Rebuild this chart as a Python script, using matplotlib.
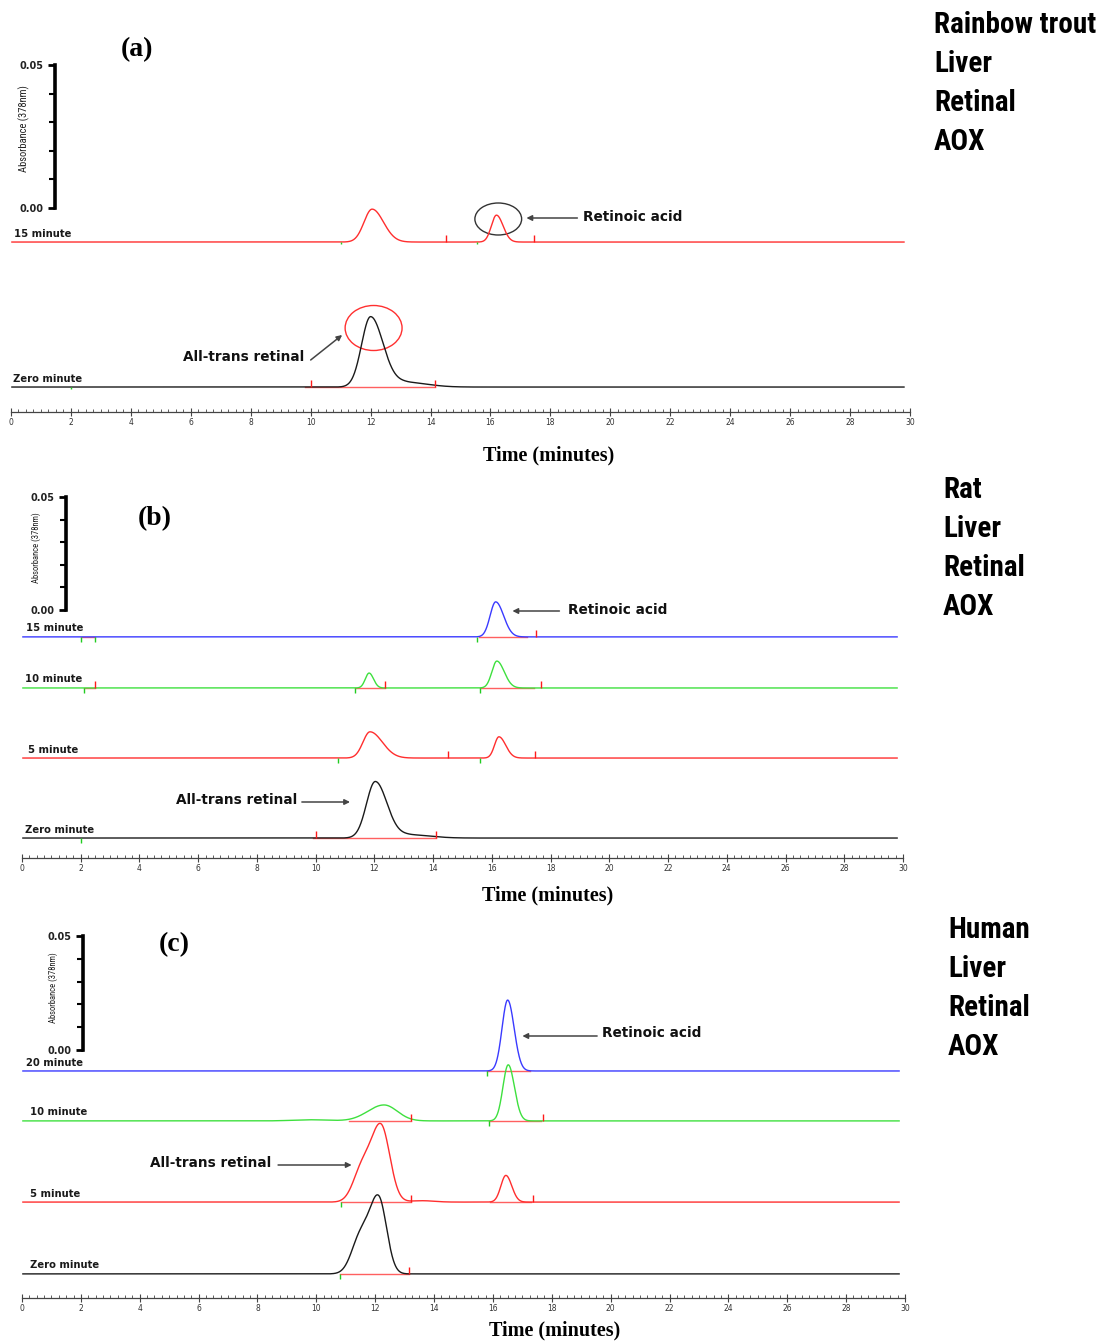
import numpy as np
import matplotlib
matplotlib.use("Agg")
import matplotlib.pyplot as plt
from matplotlib import font_manager
from matplotlib.patches import Ellipse
from matplotlib.ticker import MultipleLocator

W, H = 1100, 1341
OUT_PATH = "out.png"

# ======================================================
# DATA
# ======================================================
# ---- (a) Rainbow trout ----
A_TITLE = ["Rainbow trout", "Liver", "Retinal", "AOX"]
A_LABELS = ["15 minute", "Zero minute"]
A_COLORS = ["#ff2e2e", "#1a1a1a"]
A_OFFSETS = [-0.0119, -0.0626]
A_PEAK_RT = [[12.05, 16.20], [12.00, 13.20]]
A_PEAK_H = [[0.0115, 0.0094], [0.0246, 0.0016]]
A_PEAK_SL = [[0.27, 0.17], [0.30, 0.40]]
A_PEAK_SR = [[0.38, 0.22], [0.42, 0.70]]
A_RED_TICKS = [[14.50, 17.45], [10.00, 14.15]]
A_GREEN_TICKS = [[11.00, 15.55], [2.00]]
A_SEGMENTS = [[], [(9.80, 14.15)]]

# ---- (b) Rat ----
B_TITLE = ["Rat", "Liver", "Retinal", "AOX"]
B_LABELS = ["15 minute", "10 minute", "5 minute", "Zero minute"]
B_COLORS = ["#3a3aff", "#3ee03e", "#ff2e2e", "#1a1a1a"]
B_OFFSETS = [-0.0119, -0.0345, -0.0655, -0.1009]
B_PEAK_RT = [[16.13], [11.82, 16.17], [11.85, 16.24], [12.03, 13.20]]
B_PEAK_H = [[0.0155], [0.0066, 0.0119], [0.0116, 0.0094], [0.0250, 0.0014]]
B_PEAK_SL = [[0.19], [0.13, 0.17], [0.24, 0.15], [0.30, 0.40]]
B_PEAK_SR = [[0.27], [0.15, 0.25], [0.42, 0.23], [0.40, 0.70]]
B_RED_TICKS = [[17.50], [2.50, 12.37, 17.68], [14.50, 17.47], [10.00, 14.10]]
B_GREEN_TICKS = [[2.00, 2.50, 15.50], [2.10, 11.35, 15.60], [10.76, 15.60], [2.00]]
B_SEGMENTS = [[(2.00, 2.50), (15.55, 17.20)],
              [(2.10, 2.50), (11.35, 12.37), (15.60, 17.45)],
              [],
              [(9.90, 14.10)]]

# ---- (c) Human ----
C_TITLE = ["Human", "Liver", "Retinal", "AOX"]
C_LABELS = ["20 minute", "10 minute", "5 minute", "Zero minute"]
C_COLORS = ["#3a3aff", "#3ee03e", "#ff2e2e", "#1a1a1a"]
C_OFFSETS = [-0.0092, -0.0311, -0.0667, -0.0982]
C_PEAK_RT = [[16.50], [9.80, 12.30, 16.52], [11.55, 12.20, 13.60, 16.44], [11.50, 12.12]]
C_PEAK_H = [[0.0311], [0.0005, 0.0070, 0.0246], [0.0140, 0.0330, 0.0006, 0.0117], [0.0160, 0.0325]]
C_PEAK_SL = [[0.19], [0.60, 0.55, 0.18], [0.30, 0.33, 0.40, 0.17], [0.30, 0.30]]
C_PEAK_SR = [[0.22], [0.60, 0.45, 0.21], [0.30, 0.30, 0.40, 0.20], [0.30, 0.27]]
C_RED_TICKS = [[], [13.20, 17.70], [13.20, 17.35], [13.15]]
C_GREEN_TICKS = [[15.80], [15.85], [10.85], [10.80]]
C_SEGMENTS = [[(15.80, 17.25)],
              [(11.10, 13.20), (15.85, 17.65)],
              [(10.85, 13.20), (15.90, 17.30)],
              [(10.80, 13.15)]]

RUN_END = 29.8
X_TICKS = np.arange(0, 31, 2)


# ======================================================
# FONT HELPERS
# ======================================================
def pick_font(candidates):
    names = {f.name for f in font_manager.fontManager.ttflist}
    for c in candidates:
        if c in names:
            return c
    return "DejaVu Sans"


NARROW = pick_font(["Liberation Sans Narrow", "Arial Narrow", "Roboto Condensed",
                    "DejaVu Sans Condensed", "Roboto", "Liberation Sans"])


def fit_size(fig, text, target_px, **kw):
    """Font size that makes `text` about target_px wide."""
    r = fig.canvas.get_renderer()
    t = fig.text(0, 0, text, fontsize=20, **kw)
    w = t.get_window_extent(renderer=r).width
    t.remove()
    return 20 * target_px / w


# ======================================================
# HELPERS
# ======================================================
def fx(px):
    return px / W


def fy(py):
    return 1 - py / H


def asym_peak(t, center, height, sl, sr):
    sigma = np.where(t < center, sl, sr)
    return height * np.exp(-0.5 * ((t - center) / sigma) ** 2)


def build_trace(t, offset, rts, hs, sls, srs):
    y = np.full_like(t, offset)
    for rt, h, sl, sr in zip(rts, hs, sls, srs):
        y += asym_peak(t, rt, h, sl, sr)
    return y


def draw_panel(fig, lay, panel, title_size):
    au_per_px = 0.05 / (lay["zero"] - lay["bar_top"])
    ax = fig.add_axes([fx(lay["left"]), fy(lay["axis"]),
                       fx(lay["right"] - lay["left"]),
                       (lay["axis"] - lay["top"]) / H])
    ax.set_xlim(0, 30)
    ax.set_ylim(-(lay["axis"] - lay["zero"]) * au_per_px,
                (lay["zero"] - lay["top"]) * au_per_px)
    for s in ["left", "right", "top"]:
        ax.spines[s].set_visible(False)
    ax.spines["bottom"].set_color("#444444")
    ax.spines["bottom"].set_linewidth(0.9)
    ax.set_yticks([])
    ax.set_xticks(X_TICKS)
    ax.xaxis.set_minor_locator(MultipleLocator(0.25))
    ax.tick_params(axis="x", which="major", direction="inout", length=6,
                   width=0.8, color="#444444", labelsize=5.5, pad=1,
                   labelcolor="#333333")
    ax.tick_params(axis="x", which="minor", direction="in", length=2.5,
                   width=0.6, color="#444444")
    ax.patch.set_alpha(0)

    t = np.linspace(0.03, RUN_END, 4000)
    for i in range(len(panel["labels"])):
        off = panel["offsets"][i]
        y = build_trace(t, off, panel["rt"][i], panel["h"][i],
                        panel["sl"][i], panel["sr"][i])
        for a, b in panel["segments"][i]:
            ax.plot([a, b], [off, off], color="#ff6060", lw=1.0, zorder=2)
        ax.plot(t, y, color=panel["colors"][i], lw=1.0, zorder=3)
        if panel["red_ticks"][i]:
            ax.vlines(panel["red_ticks"][i], off, off + 7 * au_per_px,
                      color="#ff1a1a", lw=1.0, zorder=4)
        if panel["green_ticks"][i]:
            ax.vlines(panel["green_ticks"][i], off,
                      off - lay["green_len"] * au_per_px,
                      color="#22cc22", lw=1.0, zorder=4)
        ax.annotate(panel["labels"][i], (panel["label_x"][i], off),
                    xytext=(0, 2.5), textcoords="offset points",
                    fontsize=7.2, fontweight="bold", color="#1a1a1a",
                    family="DejaVu Sans", va="bottom", ha="left")

    # scale bar
    bar = fig.add_axes([fx(lay["bar_x"]), fy(lay["zero"]), 0.0005,
                        (lay["zero"] - lay["bar_top"]) / H])
    bar.set_ylim(0, 0.05)
    for s in ["right", "top", "bottom"]:
        bar.spines[s].set_visible(False)
    bar.spines["left"].set_linewidth(2.6)
    bar.set_xticks([])
    bar.set_yticks([0, 0.05])
    bar.set_yticklabels(["0.00", "0.05"])
    bar.yaxis.set_minor_locator(MultipleLocator(0.01))
    bar.tick_params(axis="y", which="major", length=5, width=2, pad=3,
                    labelsize=7)
    bar.tick_params(axis="y", which="minor", length=4, width=1.5)
    for lbl in bar.get_yticklabels():
        lbl.set_fontweight("bold")
        lbl.set_color("#222222")
    bar.patch.set_alpha(0)
    ylab_size = fit_size(fig, "Absorbance (378nm)", lay["ylab_len"], family=NARROW)
    fig.text(fx(lay["ylab"][0]), fy(lay["ylab"][1]), "Absorbance (378nm)",
             rotation=90, ha="center", va="center", fontsize=ylab_size,
             family=NARROW, color="#222222")

    # panel letter and x label
    fig.text(fx(lay["letter"][0]), fy(lay["letter"][1]), lay["letter_txt"],
             ha="center", va="center", fontsize=20, fontweight="bold",
             family="Liberation Serif")
    fig.text(fx(lay["xlab"][0]), fy(lay["xlab"][1]), "Time (minutes)",
             ha="center", va="center", fontsize=14.5, fontweight="bold",
             family="Liberation Serif")

    # side titles
    for j, line in enumerate(panel["title"]):
        fig.text(fx(lay["title_x"]), fy(lay["title_y"] + 39 * j), line,
                 ha="left", va="center", fontsize=title_size,
                 fontweight="bold", family=NARROW)
    return ax, au_per_px


def add_arrow(ax, head, tail, text, text_xy, ha):
    ax.annotate("", xy=head, xytext=tail,
                arrowprops=dict(arrowstyle="-|>", color="#444444", lw=1.1,
                                mutation_scale=8, shrinkA=0, shrinkB=0))
    ax.text(text_xy[0], text_xy[1], text, ha=ha, va="center", fontsize=9.8,
            fontweight="bold", family="DejaVu Sans", color="#111111")


# ======================================================
# MAIN
# ======================================================
def main():
    fig = plt.figure(figsize=(W / 100, H / 100), dpi=100)
    title_size = fit_size(fig, "Rainbow trout", 162, fontweight="bold", family=NARROW)

    lay_a = dict(left=11, right=910, axis=412, top=40, zero=208, bar_top=65,
                 bar_x=55, ylab=(24, 129), ylab_len=87, letter=(137, 50),
                 letter_txt="(a)", xlab=(549, 455), title_x=934, title_y=25,
                 green_len=2)
    lay_b = dict(left=22, right=903, axis=858, top=470, zero=610, bar_top=497,
                 bar_x=66, ylab=(36, 548), ylab_len=72, letter=(155, 519),
                 letter_txt="(b)", xlab=(548, 895), title_x=943, title_y=490,
                 green_len=5)
    lay_c = dict(left=22, right=905, axis=1298, top=925, zero=1050, bar_top=936,
                 bar_x=83, ylab=(53, 988), ylab_len=72, letter=(174, 945),
                 letter_txt="(c)", xlab=(555, 1330), title_x=948, title_y=930,
                 green_len=5)

    pan_a = dict(title=A_TITLE, labels=A_LABELS, colors=A_COLORS, offsets=A_OFFSETS,
                 rt=A_PEAK_RT, h=A_PEAK_H, sl=A_PEAK_SL, sr=A_PEAK_SR,
                 red_ticks=A_RED_TICKS, green_ticks=A_GREEN_TICKS,
                 segments=A_SEGMENTS, label_x=[0.10, 0.07])
    pan_b = dict(title=B_TITLE, labels=B_LABELS, colors=B_COLORS, offsets=B_OFFSETS,
                 rt=B_PEAK_RT, h=B_PEAK_H, sl=B_PEAK_SL, sr=B_PEAK_SR,
                 red_ticks=B_RED_TICKS, green_ticks=B_GREEN_TICKS,
                 segments=B_SEGMENTS, label_x=[0.14, 0.10, 0.20, 0.10])
    pan_c = dict(title=C_TITLE, labels=C_LABELS, colors=C_COLORS, offsets=C_OFFSETS,
                 rt=C_PEAK_RT, h=C_PEAK_H, sl=C_PEAK_SL, sr=C_PEAK_SR,
                 red_ticks=C_RED_TICKS, green_ticks=C_GREEN_TICKS,
                 segments=C_SEGMENTS, label_x=[0.14, 0.27, 0.27, 0.27])

    # (a)
    ax_a, k = draw_panel(fig, lay_a, pan_a, title_size)
    ax_a.add_patch(Ellipse((16.26, -11 * k), 1.56, 32 * k, fill=False,
                           ec="#333333", lw=1.0))
    ax_a.add_patch(Ellipse((12.10, -120 * k), 1.90, 45 * k, fill=False,
                           ec="#ff3030", lw=1.0))
    add_arrow(ax_a, (17.20, -10 * k), (18.90, -10 * k), "Retinoic acid",
              (19.10, -9 * k), "left")
    add_arrow(ax_a, (11.05, -127 * k), (10.00, -152 * k), "All-trans retinal",
              (9.80, -149 * k), "right")

    # (b)
    ax_b, k = draw_panel(fig, lay_b, pan_b, title_size)
    add_arrow(ax_b, (16.70, -1 * k), (18.30, -1 * k), "Retinoic acid",
              (18.60, 0 * k), "left")
    add_arrow(ax_b, (11.17, -192 * k), (9.53, -192 * k), "All-trans retinal",
              (9.36, -190 * k), "right")

    # (c)
    ax_c, k = draw_panel(fig, lay_c, pan_c, title_size)
    add_arrow(ax_c, (17.00, 14 * k), (19.54, 14 * k), "Retinoic acid",
              (19.70, 17 * k), "left")
    add_arrow(ax_c, (11.20, -115 * k), (8.70, -115 * k), "All-trans retinal",
              (8.46, -113 * k), "right")

    fig.savefig(OUT_PATH, dpi=100)
    plt.close(fig)


if __name__ == "__main__":
    main()
